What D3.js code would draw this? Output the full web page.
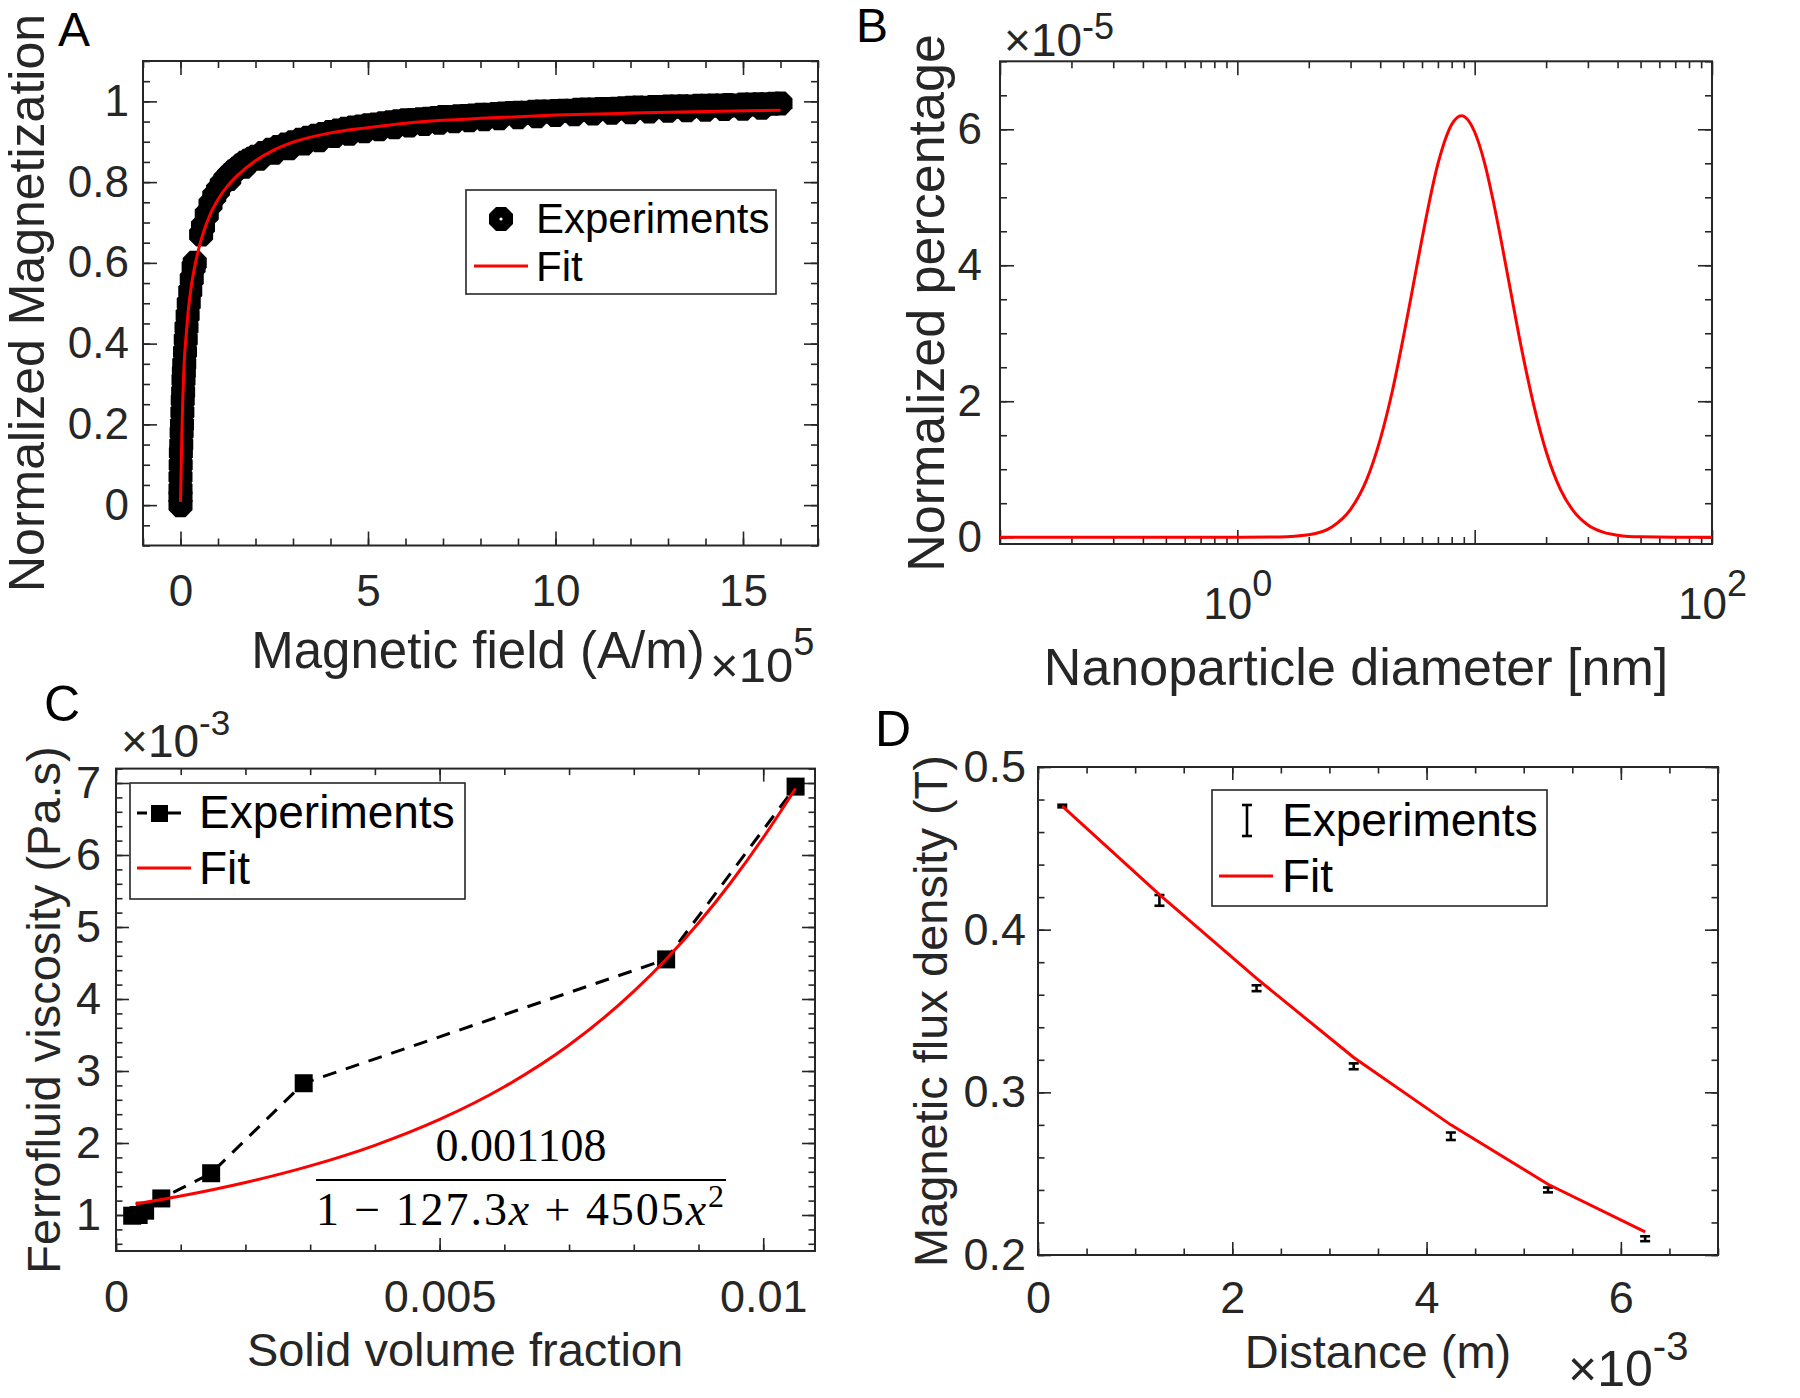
<!DOCTYPE html>
<html><head><meta charset="utf-8">
<script src="https://cdn.jsdelivr.net/npm/d3@7"></script>
<style>
body{margin:0;background:#fff;}
svg{display:block;}
</style>
</head><body>
<svg id="fig" width="1800" height="1398"></svg>
<script>
// ================= DATA =================
// Panel A : Magnetic field (x 1e5 A/m) vs normalized magnetization
const aExpX = [0,0,0,0,0.005,0.01,0.02,0.03,0.04,0.05,0.06,0.07,0.08,0.09,0.1,0.12,0.14,0.16,0.19,0.22,0.26,0.3,0.35,0.38,0.55,0.6,0.7,0.8,0.9,1.0,1.1,1.2,1.3,1.4,1.5,1.6,1.7,1.8,1.9,2.0,2.2,2.4,2.6,2.8,3.0,3.2,3.4,3.6,3.8,4.0,
  4.2,4.4,4.6,4.8,5.0,5.2,5.4,5.6,5.8,6.0,6.2,6.4,6.6,6.8,7.0,7.2,7.4,7.6,7.8,8.0,8.2,8.4,8.6,8.8,9.0,9.2,9.4,9.6,9.8,10.0,
  10.2,10.4,10.6,10.8,11.0,11.2,11.4,11.6,11.8,12.0,12.2,12.4,12.6,12.8,13.0,13.2,13.4,13.6,13.8,14.0,14.2,14.4,14.6,14.8,15.0,15.2,15.4,15.6,15.8,16.0,
  1.3,1.7,2.1,2.5,2.9,3.3,3.7,4.1,4.5,4.9,5.3,5.7,6.1,6.5,6.9,7.3,7.7,8.1,8.5,9.0,9.5,10.0,10.5,11.0,11.5,12.0,12.5,13.0,13.5,14.0,14.5,15.0,15.5];
const aExpY = [0,0.02,0.04,0.07,0.1,0.13,0.15,0.18,0.2,0.23,0.26,0.28,0.31,0.33,0.35,0.38,0.41,0.44,0.47,0.5,0.53,0.56,0.59,0.6,0.67,0.69,0.72,0.745,0.765,0.78,0.795,0.807,0.817,0.826,0.833,0.841,0.848,0.853,0.858,0.863,0.872,0.880,0.887,0.893,0.899,0.905,0.910,0.915,0.919,0.924,
  0.928,0.932,0.935,0.938,0.941,0.943,0.946,0.948,0.951,0.953,0.954,0.956,0.957,0.959,0.961,0.961,0.963,0.964,0.965,0.967,0.967,0.969,0.970,0.971,0.972,0.972,0.974,0.975,0.975,0.976,
  0.977,0.977,0.979,0.980,0.980,0.981,0.981,0.982,0.983,0.984,0.985,0.984,0.986,0.986,0.987,0.987,0.988,0.987,0.989,0.989,0.990,0.990,0.991,0.990,0.992,0.992,0.993,0.993,0.994,0.995,
  0.808,0.838,0.858,0.873,0.884,0.896,0.904,0.914,0.920,0.926,0.931,0.936,0.940,0.944,0.947,0.951,0.953,0.956,0.958,0.961,0.963,0.966,0.968,0.970,0.972,0.973,0.975,0.977,0.978,0.979,0.981,0.982,0.984];
const aFitX = [0,0.01,0.02,0.04,0.06,0.08,0.1,0.15,0.2,0.3,0.4,0.5,0.6,0.8,1.0,1.25,1.5,2,2.5,3,4,5,6,7,8,10,12,14,16];
const aFitY = [0.008,0.05,0.10,0.19,0.26,0.31,0.355,0.42,0.475,0.55,0.60,0.64,0.672,0.722,0.757,0.79,0.815,0.853,0.88,0.899,0.922,0.935,0.946,0.953,0.958,0.966,0.971,0.975,0.978];
const aXTicks = [0,5,10,15];
const aYTicks = [0,0.2,0.4,0.6,0.8,1];

// Panel B : Nanoparticle diameter (nm) vs normalized percentage (x 1e-5)
const bX = [0.1,0.5,1,1.5,2,2.5,3,3.5,4,4.5,5,5.5,6,7,8,8.8,10,11,12,13,14,16,18,20,23,26,30,35,40,50,70,100];
const bY = [0,0,0,0.004,0.035,0.15,0.41,0.84,1.44,2.15,2.93,3.69,4.39,5.49,6.07,6.2,5.96,5.51,4.93,4.32,3.72,2.66,1.85,1.26,0.70,0.39,0.18,0.07,0.03,0.005,0,0];
const bXTicks = [0.1,1,10,100];
const bXLabels = {1:"0", 100:"2"};
const bYTicks = [0,2,4,6];

// Panel C : Solid volume fraction vs ferrofluid viscosity (x 1e-3 Pa.s)
const cExpX = [0.00025,0.00035,0.00045,0.0007,0.00147,0.0029,0.0085,0.0105];
const cExpY = [0.99,1.0,1.06,1.23,1.58,2.83,4.55,6.95];
const cFitX = [0.0003,0.001,0.002,0.003,0.004,0.005,0.006,0.007,0.008,0.0085,0.009,0.0095,0.01,0.0105];
const cFitY = [1.152,1.263,1.451,1.682,1.968,2.327,2.781,3.361,4.105,4.552,5.055,5.618,6.242,6.924];
const cXTicks = [0,0.005,0.01];
const cXLabels = ["0","0.005","0.01"];
const cYTicks = [1,2,3,4,5,6,7];

// Panel D : Distance (x 1e-3 m) vs magnetic flux density (T)
const dX = [0.25,1.25,2.25,3.25,4.25,5.25,6.25];
const dY = [0.476,0.418,0.364,0.316,0.273,0.240,0.210];
const dErr = [0.0008,0.0033,0.0018,0.0018,0.0023,0.0015,0.0015];
const dFitX = [0.25,1.25,2.25,3.25,4.25,5.25,6.25];
const dFitY = [0.476,0.4215,0.370,0.3214,0.280,0.2435,0.2142];
const dXTicks = [0,2,4,6];
const dYTicks = [0.2,0.3,0.4,0.5];

// ================= DRAWING =================
const AX = "#262626";
const RED = "#ff0000";
const FONT = '"Liberation Sans", Arial, Helvetica, sans-serif';
const SERIF = '"Liberation Serif", "DejaVu Serif", "Times New Roman", serif';
const svg = d3.select("#fig");
svg.append("rect").attr("width",1800).attr("height",1398).attr("fill","#fff");

function styleAxis(sel, fs){
  sel.select(".domain").remove();
  sel.selectAll("line").attr("stroke",AX).attr("stroke-width",1.6);
  sel.selectAll("text").attr("fill",AX).style("font-family",FONT).style("font-size",fs+"px");
}
function axesBox(g, x, y, o){
  const [left,right] = x.range();
  const [bottom,top] = y.range();
  const put = (axis, tx, ty) => { const s = g.append("g").attr("transform",`translate(${tx},${ty})`).call(axis); styleAxis(s,o.tickFont); return s; };
  put(d3.axisBottom(x).tickValues(o.xMinor).tickSize(-o.minLen).tickFormat(""),0,bottom);
  put(d3.axisTop(x).tickValues(o.xMinor).tickSize(-o.minLen).tickFormat(""),0,top);
  put(d3.axisLeft(y).tickValues(o.yMinor).tickSize(-o.minLen).tickFormat(""),left,0);
  put(d3.axisRight(y).tickValues(o.yMinor).tickSize(-o.minLen).tickFormat(""),right,0);
  const xb = put(d3.axisBottom(x).tickValues(o.xMajor).tickSize(-o.majLen).tickPadding(o.xPad).tickFormat(o.xFmt),0,bottom);
  put(d3.axisTop(x).tickValues(o.xMajor).tickSize(-o.majLen).tickFormat(""),0,top);
  const yl = put(d3.axisLeft(y).tickValues(o.yMajor).tickSize(-o.majLen).tickPadding(o.yPad).tickFormat(o.yFmt),left,0);
  put(d3.axisRight(y).tickValues(o.yMajor).tickSize(-o.majLen).tickFormat(""),right,0);
  g.append("rect").attr("x",left).attr("y",top).attr("width",right-left).attr("height",bottom-top)
    .attr("fill","none").attr("stroke",AX).attr("stroke-width",2);
  return {xb,yl};
}
function label(g, x, y, str, fs, opts={}){
  const t = g.append("text").attr("transform",`translate(${x},${y})`+(opts.rot?` rotate(${opts.rot})`:""))
    .attr("text-anchor",opts.anchor||"middle").attr("fill",opts.fill||AX)
    .style("font-family",FONT).style("font-size",fs+"px").text(str);
  return t;
}
function expo(g, x, y, exp, fs, sfs, rise){
  const t = g.append("text").attr("x",x).attr("y",y).attr("fill",AX).style("font-family",FONT).style("font-size",fs+"px");
  t.append("tspan").text("\u00d7");
  t.append("tspan").text("10");
  t.append("tspan").attr("dy",-rise).style("font-size",sfs+"px").text(exp);
  return t;
}
function octagon(r){
  const pts=[]; for(let k=0;k<8;k++){const a=Math.PI/8+k*Math.PI/4; pts.push([r*Math.cos(a),r*Math.sin(a)]);}
  return "M"+pts.map(p=>p[0].toFixed(2)+","+p[1].toFixed(2)).join("L")+"Z";
}
const range = (a,b,s)=>d3.range(Math.round(a/s),Math.round(b/s)+1).map(k=>+(k*s).toFixed(6));

// ---------- Panel A ----------
{
  const g = svg.append("g");
  const x = d3.scaleLinear().domain([-1,17]).range([143,818]);
  const y = d3.scaleLinear().domain([-0.1,1.1]).range([545.5,61]);
  axesBox(g,x,y,{xMajor:aXTicks,xMinor:range(-1,17,1),yMajor:aYTicks,yMinor:range(-0.1,1.1,0.05),
    majLen:14,minLen:7,xPad:29,yPad:14,tickFont:44,xFmt:d3.format("~g"),yFmt:d3.format("~g")});
  const oct = octagon(13);
  g.append("g").selectAll("path").data(aExpX.map((v,i)=>[v,aExpY[i]])).join("path")
    .attr("d",oct).attr("transform",d=>`translate(${x(d[0])},${y(d[1])})`).attr("fill","#000");
  g.append("path").datum(aFitX.map((v,i)=>[v,aFitY[i]]))
    .attr("d",d3.line().x(d=>x(d[0])).y(d=>y(d[1])).curve(d3.curveMonotoneX))
    .attr("fill","none").attr("stroke",RED).attr("stroke-width",3);
  // legend
  g.append("rect").attr("x",466).attr("y",190).attr("width",310).attr("height",104).attr("fill","#fff").attr("stroke",AX).attr("stroke-width",1.6);
  g.append("path").attr("d",oct).attr("transform","translate(501,219)").attr("fill","#000");
  g.append("circle").attr("cx",501).attr("cy",219).attr("r",1.6).attr("fill","#fff");
  label(g,536,233,"Experiments",42,{anchor:"start",fill:"#000"});
  g.append("line").attr("x1",474).attr("x2",528).attr("y1",266).attr("y2",266).attr("stroke",RED).attr("stroke-width",3);
  label(g,536,281,"Fit",42,{anchor:"start",fill:"#000"});
  // labels
  label(g,478,668,"Magnetic field (A/m)",51);
  expo(g,710,682,"5",49,38,27);
  label(g,44,303,"Normalized Magnetization",50,{rot:-90});
  label(g,58,46,"A",48,{anchor:"start",fill:"#000"});
}

// ---------- Panel B ----------
{
  const g = svg.append("g");
  const x = d3.scaleLog().domain([0.1,100]).range([1000,1712]);
  const y = d3.scaleLinear().domain([-0.1,7]).range([544,61.3]);
  const minor = [];
  [0.1,1,10].forEach(d=>{for(let k=2;k<=9;k++) minor.push(+(d*k).toFixed(4));});
  const ax = axesBox(g,x,y,{xMajor:bXTicks,xMinor:minor,yMajor:bYTicks,yMinor:range(0,7,0.5),
    majLen:14,minLen:7,xPad:44,yPad:18,tickFont:44,xFmt:()=>"",yFmt:d3.format("~g")});
  ax.xb.selectAll(".tick text").each(function(d){
    const e = bXLabels[d]; if(e===undefined) return;
    const t = d3.select(this).text(null);
    t.append("tspan").text("10");
    t.append("tspan").attr("dy",-23).style("font-size","36px").text(e);
  });
  g.append("path").datum(bX.map((v,i)=>[v,bY[i]]))
    .attr("d",d3.line().x(d=>x(d[0])).y(d=>y(d[1])).curve(d3.curveMonotoneX))
    .attr("fill","none").attr("stroke",RED).attr("stroke-width",3);
  label(g,1356,685,"Nanoparticle diameter [nm]",52);
  label(g,944,303,"Normalized percentage",52,{rot:-90});
  expo(g,1004,56,"-5",46,36,17);
  label(g,856,42,"B",48,{anchor:"start",fill:"#000"});
}

// ---------- Panel C ----------
{
  const g = svg.append("g");
  const x = d3.scaleLinear().domain([0,0.0108]).range([116,815]);
  const y = d3.scaleLinear().domain([0.5,7.2]).range([1251,768.6]);
  axesBox(g,x,y,{xMajor:cXTicks,xMinor:range(0,0.010,0.001),yMajor:cYTicks,yMinor:range(0.6,7.2,0.2),
    majLen:13,minLen:6.5,xPad:29,yPad:15,tickFont:45,xFmt:(d,i)=>cXLabels[i],yFmt:d3.format("~g")});
  const pts = cExpX.map((v,i)=>[v,cExpY[i]]);
  g.append("path").datum(pts).attr("d",d3.line().x(d=>x(d[0])).y(d=>y(d[1])))
    .attr("fill","none").attr("stroke","#000").attr("stroke-width",3).attr("stroke-dasharray","14,10");
  g.append("g").selectAll("rect").data(pts).join("rect")
    .attr("x",d=>x(d[0])-9).attr("y",d=>y(d[1])-9).attr("width",18).attr("height",18).attr("fill","#000");
  g.append("path").datum(cFitX.map((v,i)=>[v,cFitY[i]]))
    .attr("d",d3.line().x(d=>x(d[0])).y(d=>y(d[1])).curve(d3.curveMonotoneX))
    .attr("fill","none").attr("stroke",RED).attr("stroke-width",3);
  // legend
  g.append("rect").attr("x",130).attr("y",783).attr("width",335).attr("height",116).attr("fill","#fff").attr("stroke",AX).attr("stroke-width",1.6);
  g.append("line").attr("x1",137).attr("x2",181).attr("y1",813).attr("y2",813).attr("stroke","#000").attr("stroke-width",3).attr("stroke-dasharray","10,8,26,0");
  g.append("rect").attr("x",151).attr("y",805).attr("width",17).attr("height",17).attr("fill","#000");
  label(g,199,828,"Experiments",46,{anchor:"start",fill:"#000"});
  g.append("line").attr("x1",137).attr("x2",191).attr("y1",868).attr("y2",868).attr("stroke",RED).attr("stroke-width",3);
  label(g,199,884,"Fit",46,{anchor:"start",fill:"#000"});
  // equation
  g.append("text").attr("x",521).attr("y",1161).attr("text-anchor","middle").attr("fill","#000")
    .style("font-family",SERIF).style("font-size","46px").text("0.001108");
  g.append("line").attr("x1",316).attr("x2",726).attr("y1",1180).attr("y2",1180).attr("stroke","#000").attr("stroke-width",2);
  const den = g.append("text").attr("x",316).attr("y",1225).attr("fill","#000")
    .style("font-family",SERIF).style("font-size","46px").attr("textLength",408).attr("lengthAdjust","spacing");
  den.append("tspan").text("1 \u2212 127.3");
  den.append("tspan").style("font-style","italic").text("x");
  den.append("tspan").text(" + 4505");
  den.append("tspan").style("font-style","italic").text("x");
  den.append("tspan").attr("dy",-18).style("font-size","32px").text("2");
  // labels
  label(g,465,1366,"Solid volume fraction",47);
  label(g,60,1010,"Ferrofluid viscosity (Pa.s)",47,{rot:-90});
  expo(g,121,757,"-3",46,35,22);
  label(g,44,721,"C",50,{anchor:"start",fill:"#000"});
}

// ---------- Panel D ----------
{
  const g = svg.append("g");
  const x = d3.scaleLinear().domain([0,7]).range([1038,1718]);
  const y = d3.scaleLinear().domain([0.2,0.5]).range([1255,767]);
  axesBox(g,x,y,{xMajor:dXTicks,xMinor:range(0,7,0.5),yMajor:dYTicks,yMinor:range(0.2,0.5,0.02),
    majLen:13,minLen:6.5,xPad:26,yPad:12,tickFont:45,xFmt:d3.format("~g"),yFmt:d3.format(".1f")});
  const eb = g.append("g").attr("stroke","#000").attr("stroke-width",2.6);
  dX.forEach((v,i)=>{
    const cx = x(v), y1 = y(dY[i]-dErr[i]), y2 = y(dY[i]+dErr[i]);
    eb.append("line").attr("x1",cx).attr("x2",cx).attr("y1",y1).attr("y2",y2);
    eb.append("line").attr("x1",cx-5).attr("x2",cx+5).attr("y1",y1).attr("y2",y1);
    eb.append("line").attr("x1",cx-5).attr("x2",cx+5).attr("y1",y2).attr("y2",y2);
  });
  g.append("path").datum(dFitX.map((v,i)=>[v,dFitY[i]]))
    .attr("d",d3.line().x(d=>x(d[0])).y(d=>y(d[1])))
    .attr("fill","none").attr("stroke",RED).attr("stroke-width",3);
  // legend
  g.append("rect").attr("x",1212).attr("y",790).attr("width",335).attr("height",116).attr("fill","#fff").attr("stroke",AX).attr("stroke-width",1.6);
  const li = g.append("g").attr("stroke","#000").attr("stroke-width",2.6);
  li.append("line").attr("x1",1247).attr("x2",1247).attr("y1",805).attr("y2",836);
  li.append("line").attr("x1",1242).attr("x2",1252).attr("y1",805).attr("y2",805);
  li.append("line").attr("x1",1242).attr("x2",1252).attr("y1",836).attr("y2",836);
  label(g,1282,836,"Experiments",46,{anchor:"start",fill:"#000"});
  g.append("line").attr("x1",1219).attr("x2",1273).attr("y1",876).attr("y2",876).attr("stroke",RED).attr("stroke-width",3);
  label(g,1282,892,"Fit",46,{anchor:"start",fill:"#000"});
  // labels
  label(g,1378,1368,"Distance (m)",47);
  label(g,947,1011,"Magnetic flux density (T)",47,{rot:-90});
  expo(g,1568,1386,"-3",50,40,26);
  label(g,875,746,"D",50,{anchor:"start",fill:"#000"});
}
</script>
</body></html>
